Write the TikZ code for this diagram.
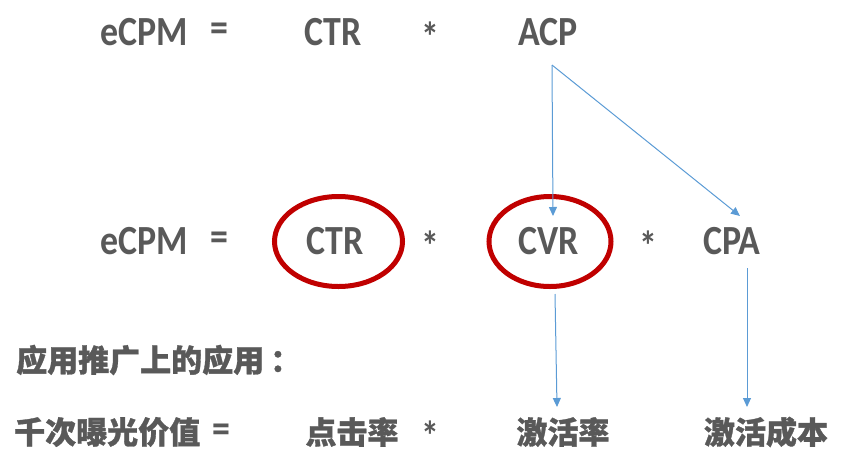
\documentclass[tikz,border=0pt]{standalone}
\usepackage{fontspec}
\setmainfont{Carlito}
\newfontfamily\cjk[BoldFeatures={FakeBold=1}]{Noto Sans CJK SC}
\usetikzlibrary{arrows.meta}
\definecolor{txt}{HTML}{595959}
\definecolor{arr}{HTML}{5B9BD5}
\definecolor{ring}{HTML}{C00000}
\newcommand\tallt[1]{\scalebox{0.97}[1.12]{#1}}
\begin{document}
\begin{tikzpicture}[x=1pt,y=-1pt,
  lat/.style={text=txt,font=\fontsize{37}{37}\selectfont\bfseries,inner sep=0pt,anchor=center},
  zh/.style={text=txt,font=\cjk\fontsize{31}{31}\selectfont\bfseries,inner sep=0pt},
  conn/.style={draw=arr,line width=1pt,-{Triangle[length=9pt,width=8pt]}}]
\useasboundingbox (0,0) rectangle (855,467);
% row 1
\node[lat] (e1) at (144,32) {\tallt{eCPM}};
\node[lat] (q1) at (219,32) {\tallt{=}};
\node[lat] (ctr1) at (333,32) {\tallt{CTR}};
\node[lat] (s1) at (430,37) {\tallt{*}};
\node[lat] (acp) at (548,32) {\tallt{ACP}};
% row 2
\node[lat] (e2) at (144,241) {\tallt{eCPM}};
\node[lat] (q2) at (219,241) {\tallt{=}};
\node[lat] (ctr2) at (335,241) {\tallt{CTR}};
\node[lat] (s2) at (430,246) {\tallt{*}};
\node[lat] (cvr) at (549,241) {\tallt{CVR}};
\node[lat] (s3) at (648,246) {\tallt{*}};
\node[lat] (cpa) at (732,241) {\tallt{CPA}};
\draw[draw=ring,line width=5pt] (338.5,241.5) ellipse [x radius=64,y radius=45];
\draw[draw=ring,line width=5pt] (550,241.5) ellipse [x radius=61,y radius=45];
% row 3
\node[zh,anchor=west] (app) at (16,360) {应用推广上的应用\hspace{6pt}：};
% row 4
\node[zh,anchor=west] (qc) at (14,432) {千次曝光价值};
\node[lat] (q4) at (221,433) {\tallt{=}};
\node[zh] (djl) at (352,432) {点击率};
\node[lat] (s4) at (430,436) {\tallt{*}};
\node[zh] (jhl) at (563,432) {激活率};
\node[zh] (jhcb) at (766,432) {激活成本};
% connectors
\coordinate (a0) at (552,65);
\draw[conn] (a0) -- (553,216);
\draw[conn] (a0) -- (740,216);
\draw[conn] (555,294) -- (557,407);
\draw[conn] (747,268) -- (747,407);
\end{tikzpicture}
\end{document}
